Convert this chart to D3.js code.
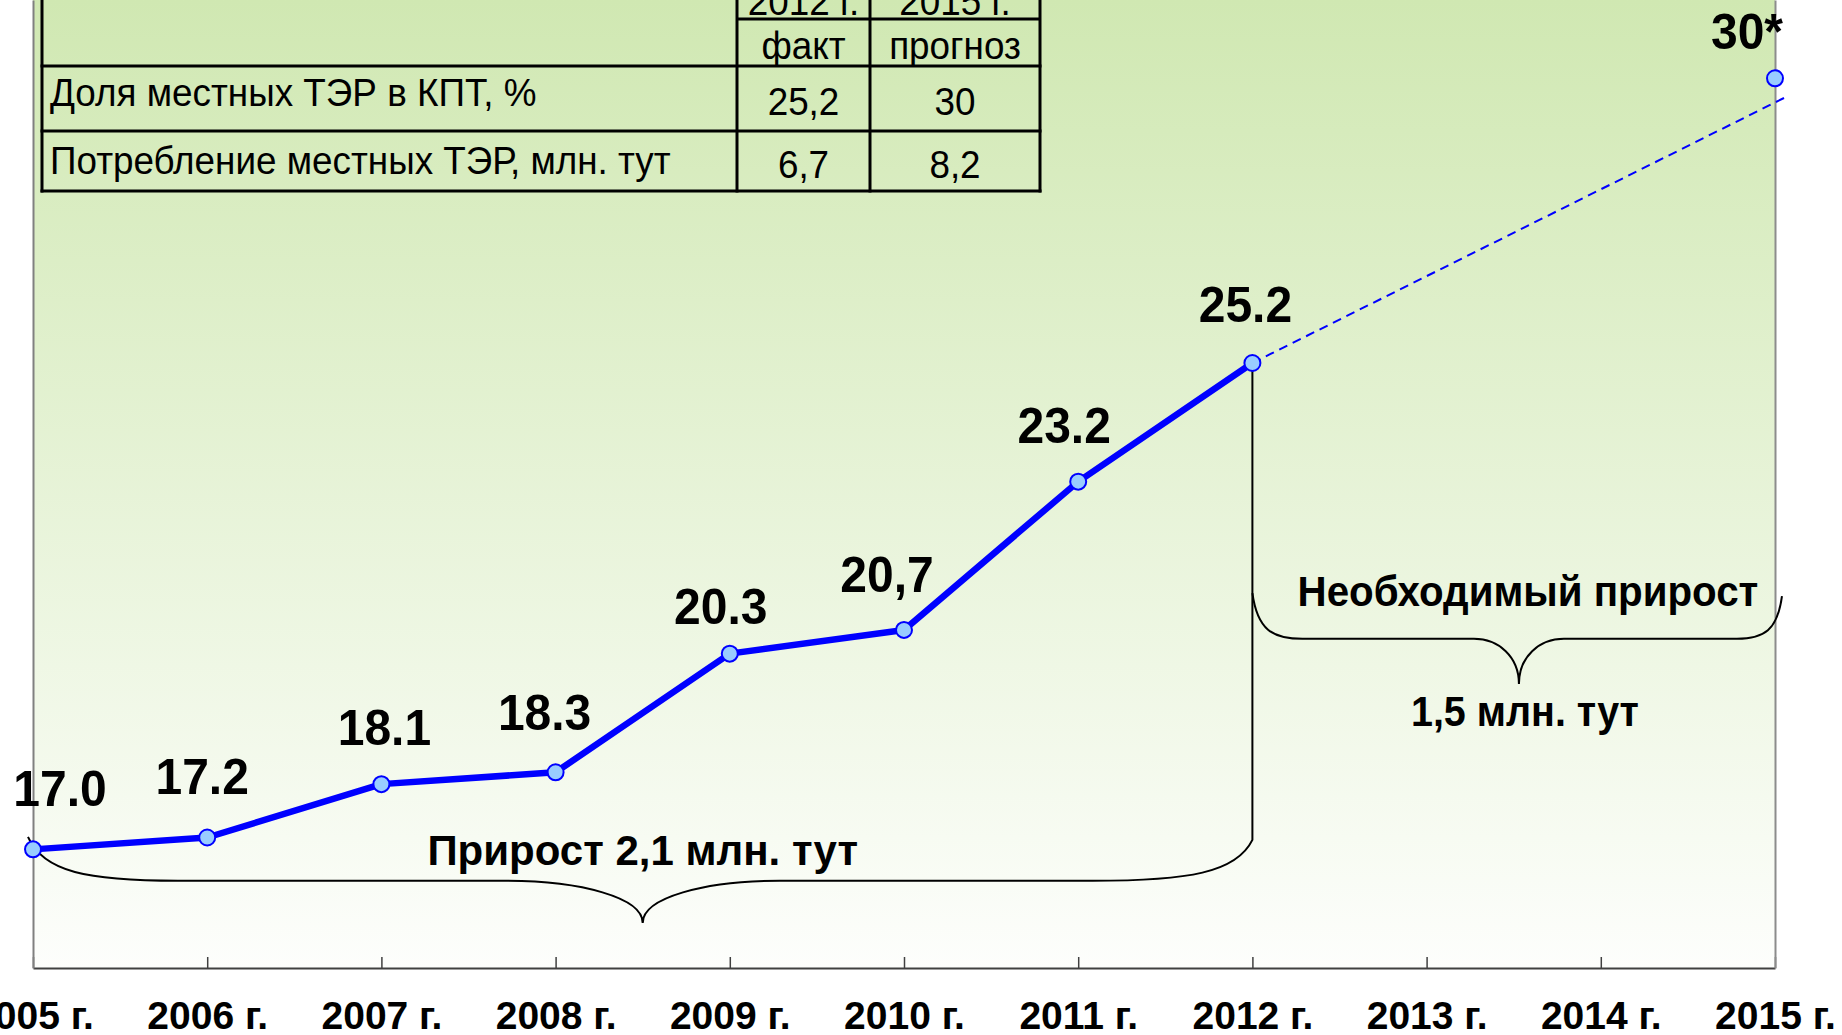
<!DOCTYPE html>
<html><head><meta charset="utf-8">
<script src="https://cdn.jsdelivr.net/npm/d3@7"></script>
<style>body{margin:0;background:#fff;} svg{display:block;font-family:"Liberation Sans",Arial,sans-serif;}</style>
</head><body><svg id="chart" width="1842" height="1035"></svg>
<script>
// ---------- DATA ----------
const years = [2005, 2006, 2007, 2008, 2009, 2010, 2011, 2012, 2013, 2014, 2015];
const actualYears = [2005, 2006, 2007, 2008, 2009, 2010, 2011, 2012];
const actualValues = [17.0, 17.2, 18.1, 18.3, 20.3, 20.7, 23.2, 25.2];
const actualLabels = ["17.0", "17.2", "18.1", "18.3", "20.3", "20,7", "23.2", "25.2"];
const forecastYears = [2015];
const forecastValues = [30];
const forecastLabels = ["30*"];
const trendYears = [2012, 2015.06];
const trendValues = [25.2, 29.68];
const tableHeadYears = ["2012 г.", "2015 г."];
const tableHeadKinds = ["факт", "прогноз"];
const tableRowLabels = ["Доля местных ТЭР в КПТ, %", "Потребление местных ТЭР, млн. тут"];
const tableValues2012 = ["25,2", "6,7"];
const tableValues2015 = ["30", "8,2"];
const braceTexts = ["Прирост 2,1 млн. тут", "Необходимый прирост", "1,5 млн. тут"];

// ---------- LAYOUT (label nudges in px, relative to each point) ----------
const labelNudge = [[27, -43], [-5, -44], [3, -39], [-11, -42], [-9, -30], [-17, -38], [-14, -39], [-7, -41], [-28, -29]];

// ---------- SETUP ----------
const svg = d3.select("#chart");
const plotLeft = 33, plotRight = 1775, plotBottom = 968, plotTop = 0;
const x = d3.scaleLinear().domain([2005, 2015]).range([plotLeft, plotRight]);
const y = d3.scaleLinear().domain([15, 31.32]).range([plotBottom, plotTop]);

const defs = svg.append("defs");
const grad = defs.append("linearGradient").attr("id", "bg").attr("x1", 0).attr("y1", 0).attr("x2", 0).attr("y2", 1);
grad.append("stop").attr("offset", "0%").attr("stop-color", "#d0e8b2");
grad.append("stop").attr("offset", "100%").attr("stop-color", "#fdfefc");

svg.append("rect").attr("x", plotLeft).attr("y", plotTop)
  .attr("width", plotRight - plotLeft).attr("height", plotBottom - plotTop)
  .attr("fill", "url(#bg)");

// ---------- TABLE ----------
const tX = [42, 737, 870, 1040];
const tY = [-40, 19, 66, 131, 191];
const tbl = svg.append("g");
const tblLine = (x1, y1, x2, y2) => tbl.append("line").attr("x1", x1).attr("y1", y1).attr("x2", x2).attr("y2", y2)
  .attr("stroke", "#000").attr("stroke-width", 3);
tX.forEach(v => tblLine(v, tY[0], v, tY[4] + 1.5));
tblLine(tX[1], tY[1], tX[3], tY[1]);
[2, 3, 4].forEach(i => tblLine(tX[0] - 1.5, tY[i], tX[3] + 1.5, tY[i]));
const tfs = 38, tsx = 0.97;
function tText(txt, xx, yy, anchor) {
  tbl.append("text").attr("transform", `translate(${xx},${yy}) scale(${tsx},1)`).attr("text-anchor", anchor)
    .attr("font-size", tfs).attr("fill", "#000").text(txt);
}
const colMid = [(tX[1] + tX[2]) / 2, (tX[2] + tX[3]) / 2];
tableHeadYears.forEach((t, i) => tText(t, colMid[i], tY[1] - 4, "middle"));
tableHeadKinds.forEach((t, i) => tText(t, colMid[i], tY[1] + 40, "middle"));
tableRowLabels.forEach((t, i) => tText(t, tX[0] + 8, tY[2 + i] + (i ? 43 : 40), "start"));
tableValues2012.forEach((t, i) => tText(t, colMid[0], tY[2 + i] + (i ? 47 : 49), "middle"));
tableValues2015.forEach((t, i) => tText(t, colMid[1], tY[2 + i] + (i ? 47 : 49), "middle"));

// ---------- AXES ----------
const xAxis = d3.axisBottom(x).tickValues(years).tickFormat(d => d + " г.")
  .tickSize(-11).tickSizeOuter(0).tickPadding(33);
const gx = svg.append("g").attr("transform", `translate(0,${plotBottom})`).call(xAxis);
gx.select(".domain").attr("stroke", "#404040").attr("stroke-width", 2);
gx.selectAll(".tick line").attr("stroke", "#404040").attr("stroke-width", 1.5);
gx.selectAll(".tick text").attr("font-size", 39).attr("font-weight", "bold")
  .attr("font-family", "'Liberation Sans',Arial,sans-serif").attr("fill", "#000");

const yAxis = d3.axisLeft(y).tickValues([]).tickSizeOuter(0);
const gy = svg.append("g").attr("transform", `translate(${plotLeft},0)`).call(yAxis);
gy.select(".domain").attr("stroke", "#808080").attr("stroke-width", 2);
const gr = svg.append("g").attr("transform", `translate(${plotRight},0)`).call(yAxis);
gr.select(".domain").attr("stroke", "#8c8c8c").attr("stroke-width", 2);

// ---------- BRACES ----------
function bracePath(x0, y0, xt, yt, x1, y1, ym, r0, rt, r1) {
  const p = d3.path();
  p.moveTo(x0, y0);
  p.bezierCurveTo(x0 + r0 * 0.1, y0 + (ym - y0) * 0.8, x0 + r0 * 0.4, ym, x0 + r0, ym);
  p.lineTo(xt - rt, ym);
  p.bezierCurveTo(xt - rt * 0.45, ym, xt, yt - (yt - ym) * 0.6, xt, yt);
  p.bezierCurveTo(xt, yt - (yt - ym) * 0.6, xt + rt * 0.45, ym, xt + rt, ym);
  p.lineTo(x1 - r1, ym);
  p.bezierCurveTo(x1 - r1 * 0.4, ym, x1 - r1 * 0.1, y1 + (ym - y1) * 0.8, x1, y1);
  return p;
}
const braces = svg.append("g").attr("fill", "none").attr("stroke", "#000").attr("stroke-width", 2);
const b1 = bracePath(x(2005) - 5, y(17.21), x(2008.5), y(15.76), x(2012), y(17.16), y(16.47), 150, 137, 160);
b1.lineTo(x(2012), y(25.2));
braces.append("path").attr("d", b1.toString());
const b2 = bracePath(x(2012), y(21.32), x(2013.53), y(19.79), x(2015.04), y(21.27), y(20.55), 50, 45, 45);
braces.append("path").attr("d", b2.toString());

const annFs = 42, annSx = [1.0, 0.96, 0.94];
function ann(i, xx, yy) {
  svg.append("text").attr("transform", `translate(${xx},${yy}) scale(${annSx[i]},1)`)
    .attr("text-anchor", "middle").attr("font-size", annFs).attr("font-weight", "bold")
    .attr("fill", "#000").text(braceTexts[i]);
}
ann(0, x(2008.5), y(16.47) - 16);
ann(1, x(2013.53) + 9, y(20.55) - 33);
ann(2, x(2013.53) + 6, y(19.79) + 42);

// ---------- LINES ----------
const line = d3.line().x(d => x(d[0])).y(d => y(d[1]));
svg.append("path").datum(d3.zip(trendYears, trendValues))
  .attr("d", line).attr("fill", "none").attr("stroke", "#0000ff")
  .attr("stroke-width", 2).attr("stroke-dasharray", "9,6");
svg.append("path").datum(d3.zip(actualYears, actualValues))
  .attr("d", line).attr("fill", "none").attr("stroke", "#0000ff")
  .attr("stroke-width", 6.5).attr("stroke-linejoin", "round");

const pts = d3.zip(actualYears, actualValues).concat(d3.zip(forecastYears, forecastValues));
svg.append("g").selectAll("circle").data(pts).join("circle")
  .attr("cx", d => x(d[0])).attr("cy", d => y(d[1])).attr("r", 8)
  .attr("fill", "#99ccff").attr("stroke", "#0000ff").attr("stroke-width", 2);

// ---------- LABELS ----------
const lblFs = 50, lblSx = 0.96;
const allLabels = actualLabels.concat(forecastLabels);
svg.append("g").selectAll("text").data(pts).join("text")
  .attr("transform", (d, i) => `translate(${x(d[0]) + labelNudge[i][0]},${y(d[1]) + labelNudge[i][1]}) scale(${lblSx},1)`)
  .attr("text-anchor", "middle").attr("font-size", lblFs).attr("font-weight", "bold")
  .attr("fill", "#000").text((d, i) => allLabels[i]);
</script></body></html>
